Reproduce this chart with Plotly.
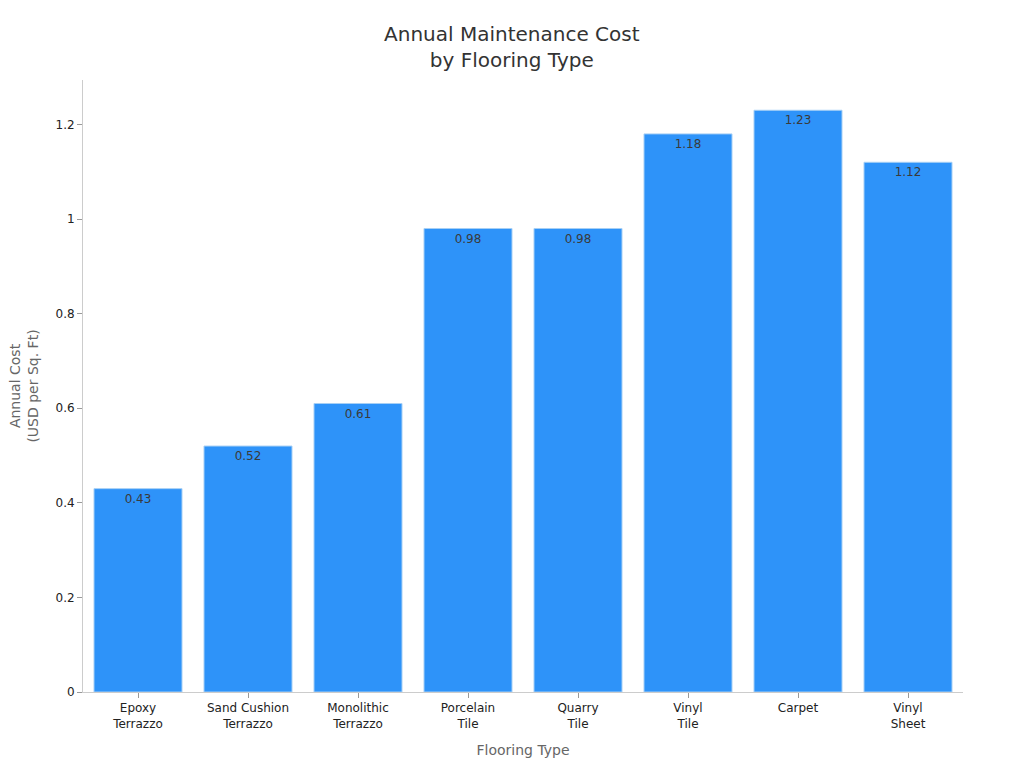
import plotly.graph_objects as go

# data
flooring_types = ["Epoxy<br>Terrazzo", "Sand Cushion<br>Terrazzo", "Monolithic<br>Terrazzo",
                  "Porcelain<br>Tile", "Quarry<br>Tile", "Vinyl<br>Tile", "Carpet", "Vinyl<br>Sheet"]
annual_cost = [0.43, 0.52, 0.61, 0.98, 0.98, 1.18, 1.23, 1.12]
y_ticks = [0, 0.2, 0.4, 0.6, 0.8, 1, 1.2]

fig = go.Figure()
fig.add_trace(go.Bar(
    x=flooring_types, y=annual_cost,
    text=[f"{v:.2f}" for v in annual_cost],
    textposition="inside", insidetextanchor="end",
    textfont=dict(color="#3a3a3a", size=12),
    marker=dict(color="#2e93f9", line=dict(color="#a6cff5", width=1)),
    hoverinfo="x+y",
))

fig.update_layout(
    width=1024, height=768,
    template="plotly_white",
    font=dict(family="DejaVu Sans, sans-serif", color="#333333"),
    title=dict(text="Annual Maintenance Cost<br>by Flooring Type", x=0.492, xanchor="center",
               y=0.957, yanchor="top", font=dict(size=20, color="#333333")),
    margin=dict(l=75, r=69, t=72, b=84),
    bargap=0.2,
    showlegend=False,
    plot_bgcolor="white", paper_bgcolor="white",
)
# y-axis title as a rotated annotation so it can sit a bit further left
fig.add_annotation(
    text="Annual Cost<br>(USD per Sq. Ft)", textangle=-90,
    xref="paper", yref="paper", x=-0.0675, y=0.5, xanchor="center", yanchor="middle",
    showarrow=False, font=dict(size=14, color="#666666"),
)
fig.update_xaxes(
    title=dict(text="Flooring Type", font=dict(size=14, color="#666666"), standoff=15),
    showline=True, linecolor="#cccccc", linewidth=1,
    ticks="outside", tickcolor="#999999", ticklen=5,
    tickfont=dict(size=12, color="#222222"),
    showgrid=False, automargin=False,
)
fig.update_yaxes(
    range=[0, 1.294], tickvals=y_ticks, ticktext=[str(t) for t in y_ticks],
    showline=True, linecolor="#cccccc", linewidth=1,
    ticks="outside", tickcolor="#999999", ticklen=5,
    tickfont=dict(size=12, color="#222222"),
    showgrid=False, zeroline=False, automargin=False,
)

fig.write_html("out.html")
